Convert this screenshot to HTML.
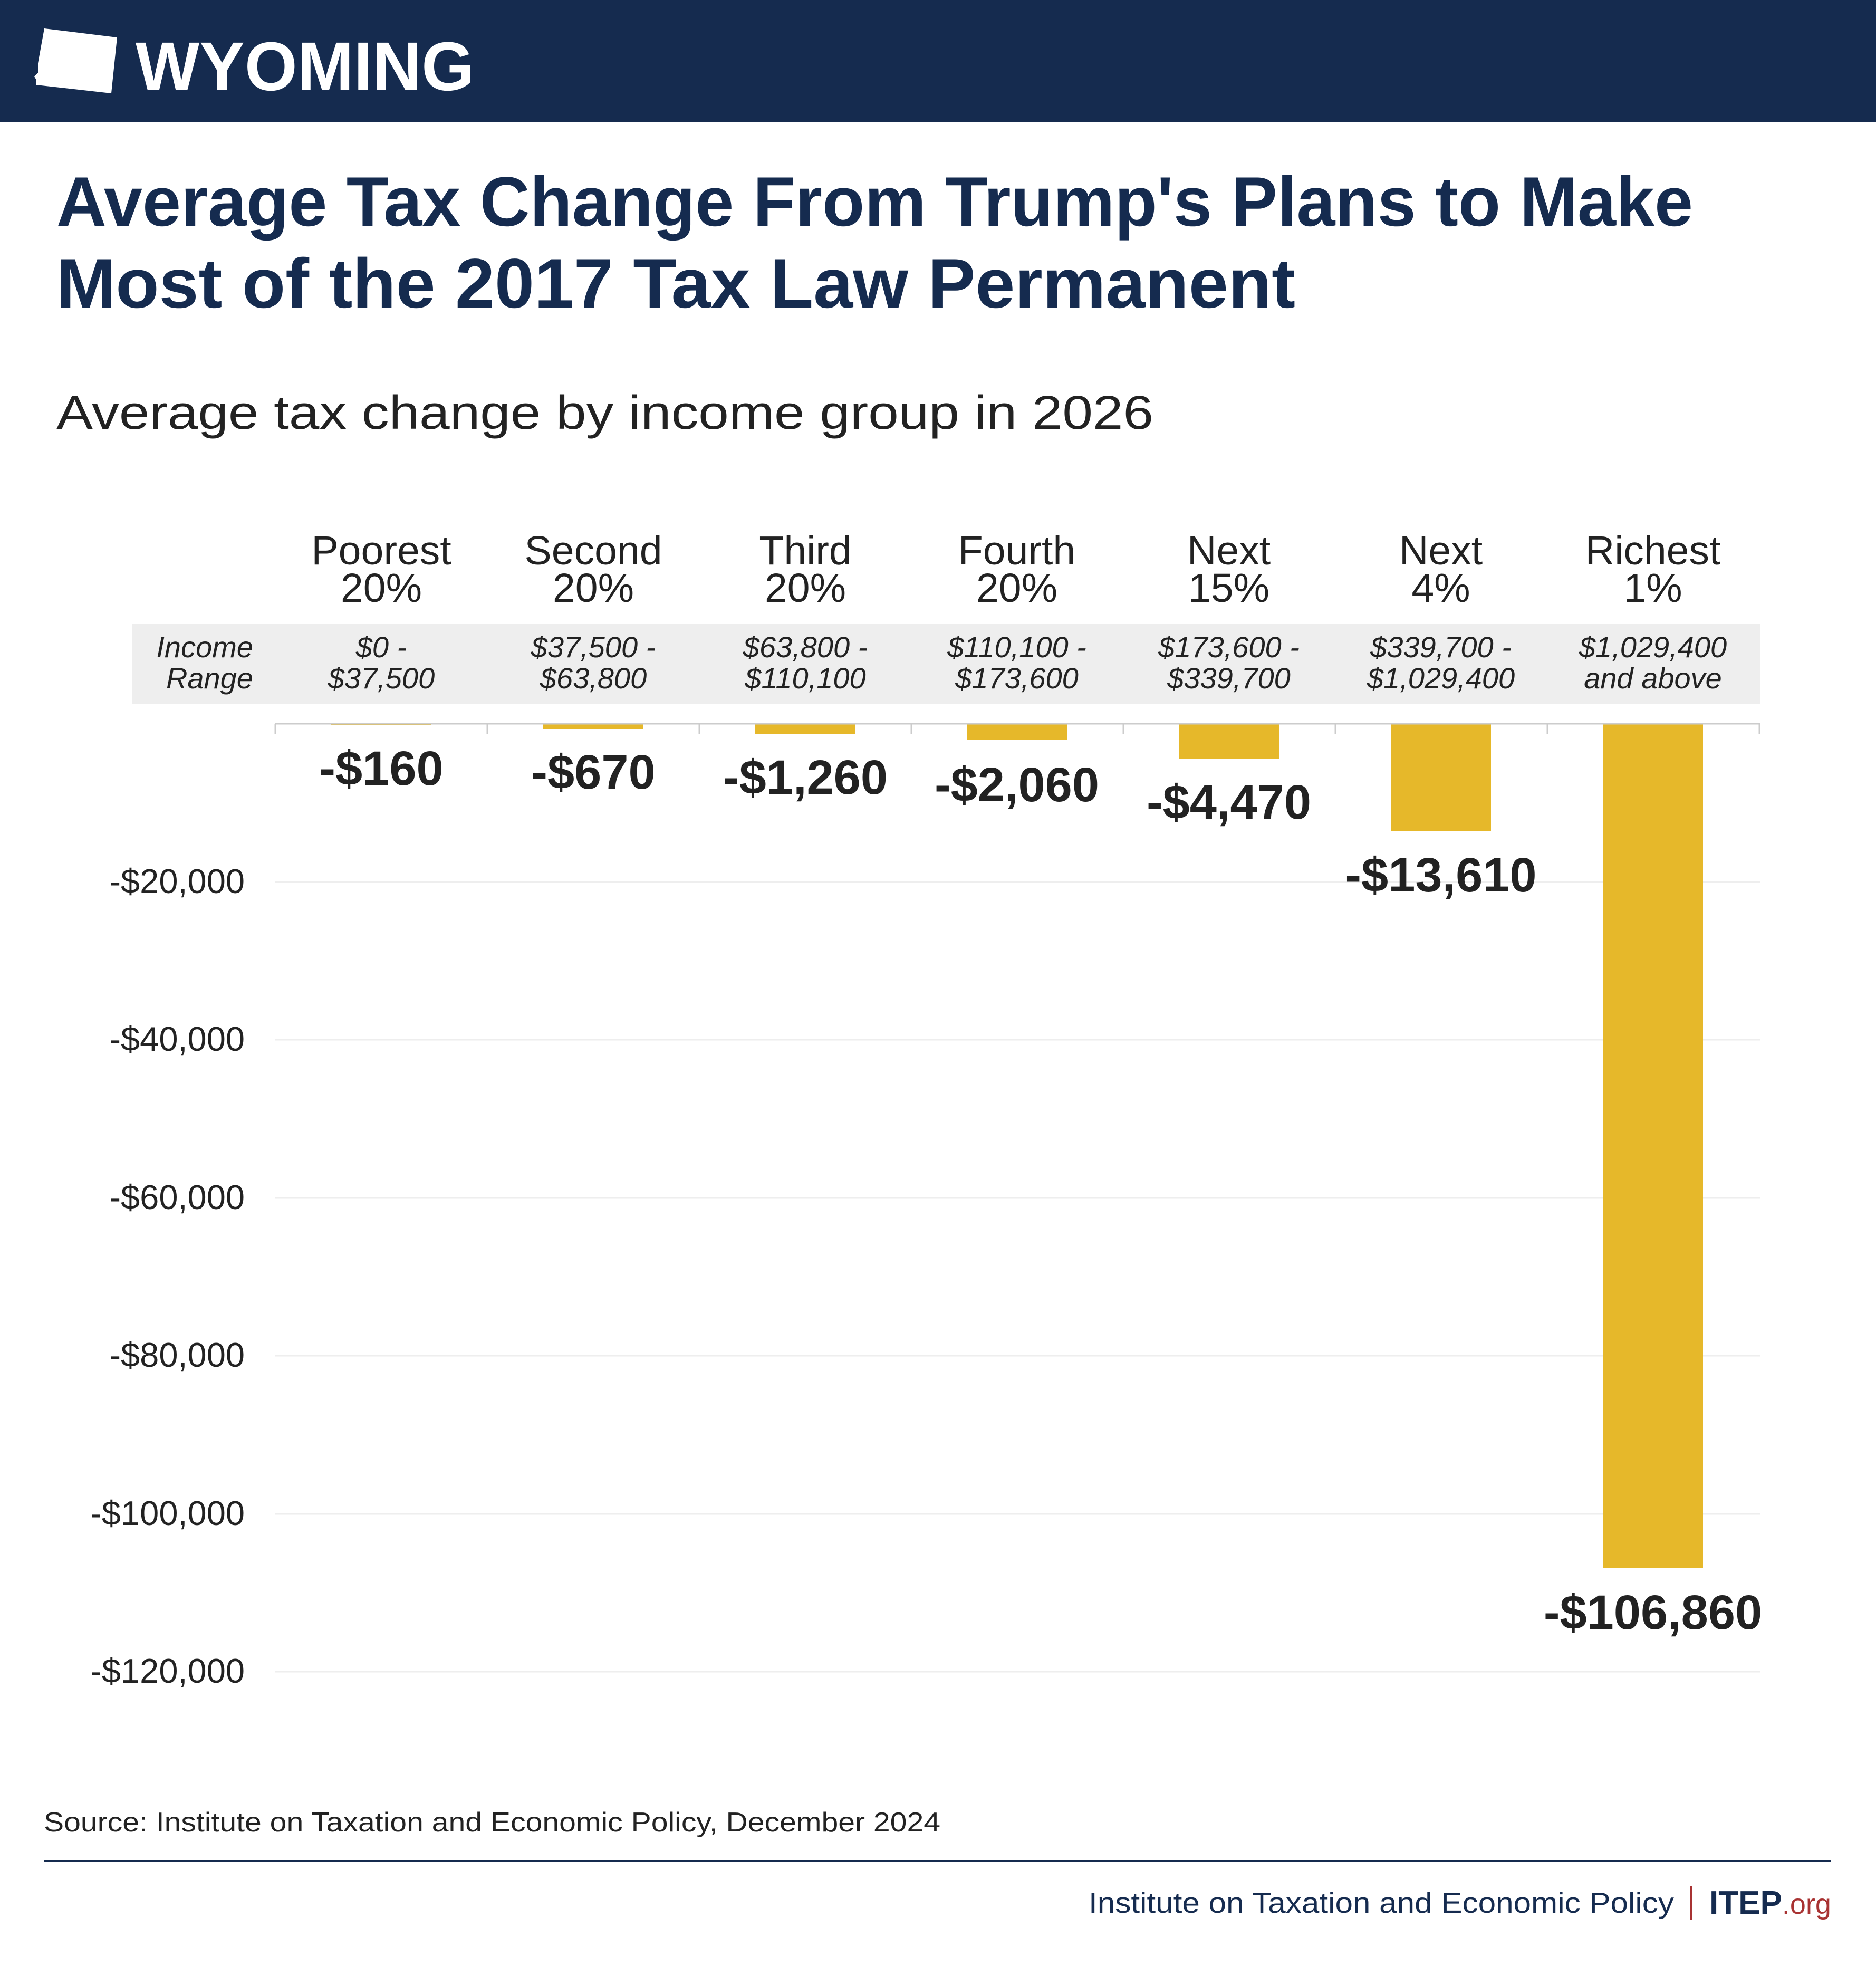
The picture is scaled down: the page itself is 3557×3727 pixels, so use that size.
<!DOCTYPE html>
<html><head><meta charset="utf-8"><style>
html,body{margin:0;padding:0;background:#fff;}
svg{display:block;}
text{font-family:"Liberation Sans",sans-serif;}
</style></head><body>
<svg width="3557" height="3727" viewBox="0 0 3557 3727" xmlns="http://www.w3.org/2000/svg">
<rect x="0" y="0" width="3557" height="231" fill="#152b4f"/>
<polygon points="84,54 222,71 211,177 69,161 68,150 65,145 72,138 72,120" fill="#fff"/>
<text x="257" y="171" font-size="131" font-weight="bold" fill="#fff" textLength="642" lengthAdjust="spacingAndGlyphs">WYOMING</text>

<text x="107" y="428" font-size="133" font-weight="bold" fill="#152b4f" textLength="3103" lengthAdjust="spacingAndGlyphs">Average Tax Change From Trump's Plans to Make</text>
<text x="107" y="583" font-size="133" font-weight="bold" fill="#152b4f" textLength="2349" lengthAdjust="spacingAndGlyphs">Most of the 2017 Tax Law Permanent</text>
<text x="107" y="813" font-size="90" fill="#222" textLength="2080" lengthAdjust="spacingAndGlyphs">Average tax change by income group in 2026</text>

<g font-size="77" fill="#222" text-anchor="middle">
<text x="723" y="1070">Poorest</text><text x="723" y="1141">20%</text>
<text x="1125" y="1070">Second</text><text x="1125" y="1141">20%</text>
<text x="1527" y="1070">Third</text><text x="1527" y="1141">20%</text>
<text x="1928" y="1070">Fourth</text><text x="1928" y="1141">20%</text>
<text x="2330" y="1070">Next</text><text x="2330" y="1141">15%</text>
<text x="2732" y="1070">Next</text><text x="2732" y="1141">4%</text>
<text x="3134" y="1070">Richest</text><text x="3134" y="1141">1%</text>
</g>

<rect x="250" y="1182" width="3088" height="152" fill="#eeeeee"/>
<g font-size="56" font-style="italic" fill="#222" text-anchor="middle">
<text x="480" y="1246" text-anchor="end">Income</text><text x="480" y="1305" text-anchor="end">Range</text>
<text x="723" y="1246">$0 -</text><text x="723" y="1305">$37,500</text>
<text x="1125" y="1246">$37,500 -</text><text x="1125" y="1305">$63,800</text>
<text x="1527" y="1246">$63,800 -</text><text x="1527" y="1305">$110,100</text>
<text x="1928" y="1246">$110,100 -</text><text x="1928" y="1305">$173,600</text>
<text x="2330" y="1246">$173,600 -</text><text x="2330" y="1305">$339,700</text>
<text x="2732" y="1246">$339,700 -</text><text x="2732" y="1305">$1,029,400</text>
<text x="3134" y="1246">$1,029,400</text><text x="3134" y="1305">and above</text>
</g>

<g stroke="#eeeeee" stroke-width="3">
<line x1="522" y1="1672" x2="3338" y2="1672"/>
<line x1="522" y1="1971" x2="3338" y2="1971"/>
<line x1="522" y1="2271" x2="3338" y2="2271"/>
<line x1="522" y1="2570" x2="3338" y2="2570"/>
<line x1="522" y1="2870" x2="3338" y2="2870"/>
<line x1="522" y1="3169" x2="3338" y2="3169"/>
</g>
<g font-size="65" fill="#222" text-anchor="end">
<text x="464" y="1693">-$20,000</text>
<text x="464" y="1992">-$40,000</text>
<text x="464" y="2292">-$60,000</text>
<text x="464" y="2591">-$80,000</text>
<text x="464" y="2891">-$100,000</text>
<text x="464" y="3190">-$120,000</text>
</g>

<g fill="#e6b82a">
<rect x="628" y="1372" width="190" height="3"/>
<rect x="1030" y="1372" width="190" height="10"/>
<rect x="1432" y="1372" width="190" height="19"/>
<rect x="1833" y="1372" width="190" height="31"/>
<rect x="2235" y="1372" width="190" height="67"/>
<rect x="2637" y="1372" width="190" height="204"/>
<rect x="3039" y="1372" width="190" height="1601"/>
</g>
<line x1="522" y1="1372" x2="3338" y2="1372" stroke="#cccccc" stroke-width="3"/>
<g stroke="#cccccc" stroke-width="3">
<line x1="522" y1="1372" x2="522" y2="1392"/><line x1="924" y1="1372" x2="924" y2="1392"/>
<line x1="1326" y1="1372" x2="1326" y2="1392"/><line x1="1728" y1="1372" x2="1728" y2="1392"/>
<line x1="2130" y1="1372" x2="2130" y2="1392"/><line x1="2532" y1="1372" x2="2532" y2="1392"/>
<line x1="2934" y1="1372" x2="2934" y2="1392"/><line x1="3336" y1="1372" x2="3336" y2="1392"/>
</g>
<g font-size="92" font-weight="bold" fill="#222" text-anchor="middle">
<text x="723" y="1488">-$160</text>
<text x="1125" y="1495">-$670</text>
<text x="1527" y="1505">-$1,260</text>
<text x="1928" y="1519">-$2,060</text>
<text x="2330" y="1552">-$4,470</text>
<text x="2732" y="1690">-$13,610</text>
<text x="3134" y="3088">-$106,860</text>
</g>

<text x="83" y="3472" font-size="52" fill="#222" textLength="1700" lengthAdjust="spacingAndGlyphs">Source: Institute on Taxation and Economic Policy, December 2024</text>
<line x1="83" y1="3528" x2="3471" y2="3528" stroke="#152b4f" stroke-width="3"/>
<text x="2064" y="3626" font-size="55" fill="#152b4f" textLength="1110" lengthAdjust="spacingAndGlyphs">Institute on Taxation and Economic Policy</text>
<line x1="3207" y1="3575" x2="3207" y2="3640" stroke="#a83232" stroke-width="4"/>
<text x="3241" y="3628" font-size="62" font-weight="bold" fill="#152b4f">ITEP<tspan font-weight="normal" fill="#a83232" font-size="54">.org</tspan></text>
</svg>
</body></html>
